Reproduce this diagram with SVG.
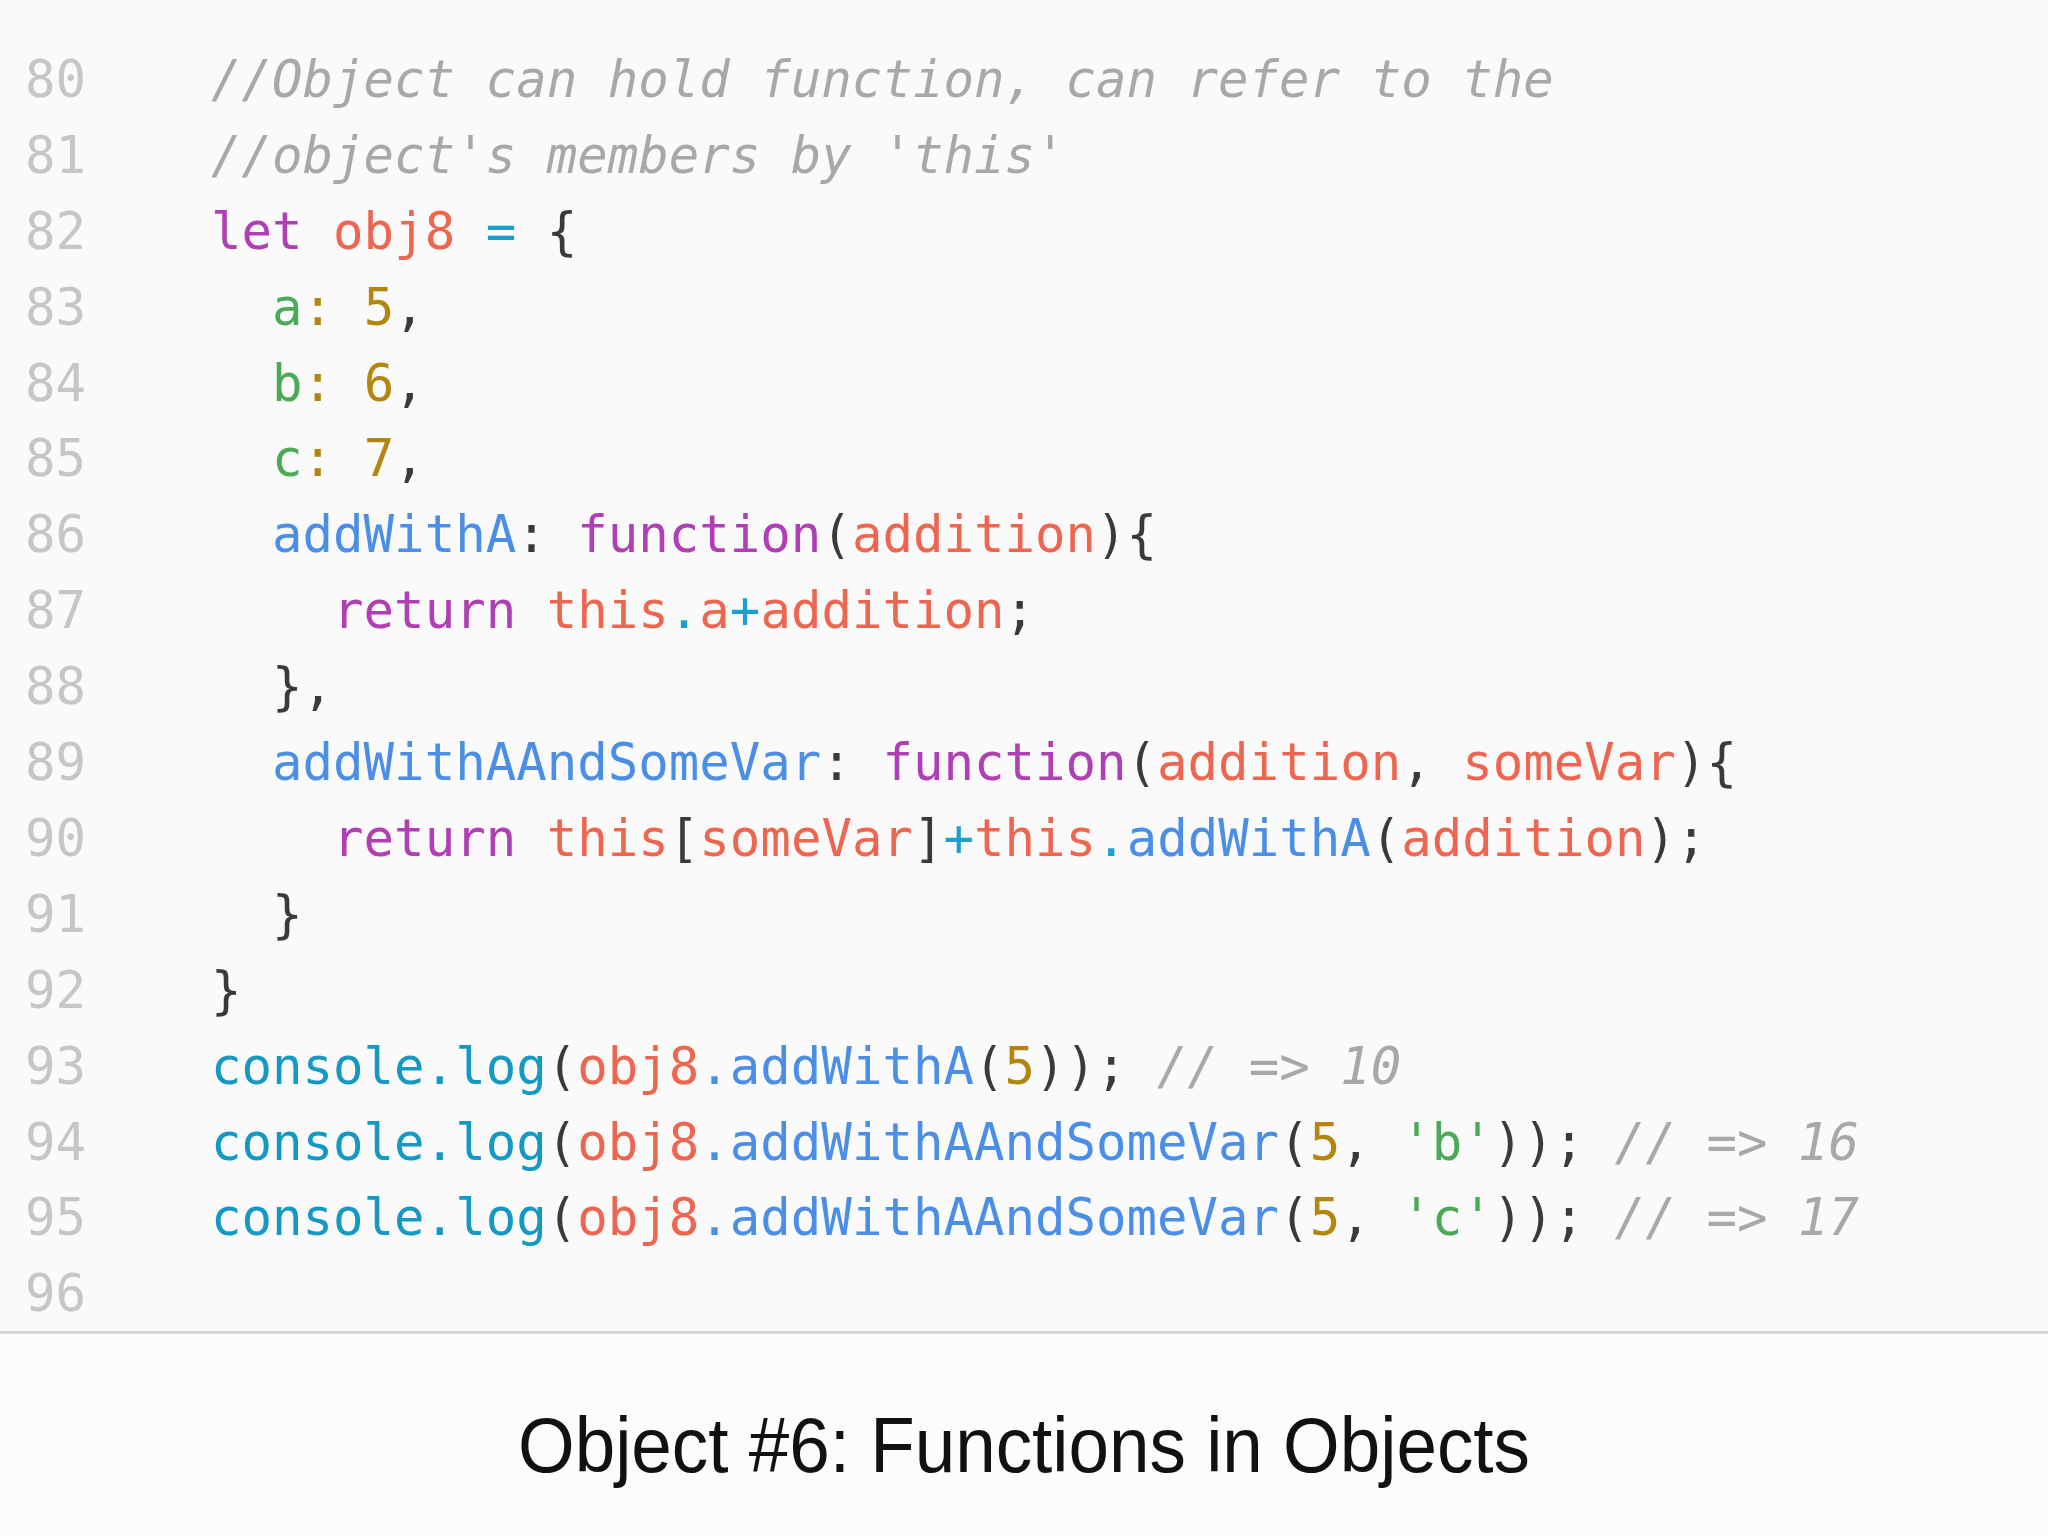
<svg xmlns="http://www.w3.org/2000/svg" width="2048" height="1536" viewBox="0 0 2048 1536">
<style>
.code{font-family:"DejaVu Sans Mono","Liberation Mono",monospace;font-size:50.7px;fill:#3a3a3a;white-space:pre}
.ln{font-family:"DejaVu Sans Mono","Liberation Mono",monospace;font-size:50.7px;fill:#c6c6c6}
.cm{fill:#a8a8a8;font-style:italic}
.kw{fill:#b03eb4}
.vr{fill:#ee6650}
.pr{fill:#4b8ee8}
.cn{fill:#1499c4}
.op{fill:#1aa0cf}
.nu{fill:#b5860f}
.st{fill:#4aaa55}
.caption{font-family:"Liberation Sans",Arial,sans-serif;font-size:78px;fill:#111111}
</style>
<rect x="0" y="0" width="2048" height="1334" fill="#fafafa"/>
<rect x="0" y="1334" width="2048" height="202" fill="#fcfcfd"/>
<g id="separator"><rect x="0" y="1331" width="2048" height="3" fill="#d8d8d8"/></g>
<g id="line-numbers" class="ln">
<text x="25" y="97">80</text>
<text x="25" y="173">81</text>
<text x="25" y="249">82</text>
<text x="25" y="325">83</text>
<text x="25" y="401">84</text>
<text x="25" y="476">85</text>
<text x="25" y="552">86</text>
<text x="25" y="628">87</text>
<text x="25" y="704">88</text>
<text x="25" y="780">89</text>
<text x="25" y="856">90</text>
<text x="25" y="932">91</text>
<text x="25" y="1008">92</text>
<text x="25" y="1084">93</text>
<text x="25" y="1160">94</text>
<text x="25" y="1235">95</text>
<text x="25" y="1311">96</text>
</g>
<g id="code" class="code">
<text xml:space="preserve" x="211" y="97"><tspan class="cm">//Object can hold function, can refer to the</tspan></text>
<text xml:space="preserve" x="211" y="173"><tspan class="cm">//object's members by 'this'</tspan></text>
<text xml:space="preserve" x="211" y="249"><tspan class="kw">let</tspan> <tspan class="vr">obj8</tspan> <tspan class="op">=</tspan> {</text>
<text xml:space="preserve" x="211" y="325">  <tspan class="st">a</tspan><tspan class="nu">:</tspan> <tspan class="nu">5</tspan>,</text>
<text xml:space="preserve" x="211" y="401">  <tspan class="st">b</tspan><tspan class="nu">:</tspan> <tspan class="nu">6</tspan>,</text>
<text xml:space="preserve" x="211" y="476">  <tspan class="st">c</tspan><tspan class="nu">:</tspan> <tspan class="nu">7</tspan>,</text>
<text xml:space="preserve" x="211" y="552">  <tspan class="pr">addWithA</tspan>: <tspan class="kw">function</tspan>(<tspan class="vr">addition</tspan>){</text>
<text xml:space="preserve" x="211" y="628">    <tspan class="kw">return</tspan> <tspan class="vr">this</tspan><tspan class="op">.</tspan><tspan class="vr">a</tspan><tspan class="op">+</tspan><tspan class="vr">addition</tspan>;</text>
<text xml:space="preserve" x="211" y="704">  },</text>
<text xml:space="preserve" x="211" y="780">  <tspan class="pr">addWithAAndSomeVar</tspan>: <tspan class="kw">function</tspan>(<tspan class="vr">addition</tspan>, <tspan class="vr">someVar</tspan>){</text>
<text xml:space="preserve" x="211" y="856">    <tspan class="kw">return</tspan> <tspan class="vr">this</tspan>[<tspan class="vr">someVar</tspan>]<tspan class="op">+</tspan><tspan class="vr">this</tspan><tspan class="op">.</tspan><tspan class="pr">addWithA</tspan>(<tspan class="vr">addition</tspan>);</text>
<text xml:space="preserve" x="211" y="932">  }</text>
<text xml:space="preserve" x="211" y="1008">}</text>
<text xml:space="preserve" x="211" y="1084"><tspan class="cn">console.log</tspan>(<tspan class="vr">obj8</tspan><tspan class="pr">.addWithA</tspan>(<tspan class="nu">5</tspan>)); <tspan class="cm">// =&gt; 10</tspan></text>
<text xml:space="preserve" x="211" y="1160"><tspan class="cn">console.log</tspan>(<tspan class="vr">obj8</tspan><tspan class="pr">.addWithAAndSomeVar</tspan>(<tspan class="nu">5</tspan>, <tspan class="st">'b'</tspan>)); <tspan class="cm">// =&gt; 16</tspan></text>
<text xml:space="preserve" x="211" y="1235"><tspan class="cn">console.log</tspan>(<tspan class="vr">obj8</tspan><tspan class="pr">.addWithAAndSomeVar</tspan>(<tspan class="nu">5</tspan>, <tspan class="st">'c'</tspan>)); <tspan class="cm">// =&gt; 17</tspan></text>
</g>
<g id="caption"><text class="caption" x="1024" y="1472" text-anchor="middle" textLength="1012" lengthAdjust="spacingAndGlyphs">Object #6: Functions in Objects</text></g>
</svg>
